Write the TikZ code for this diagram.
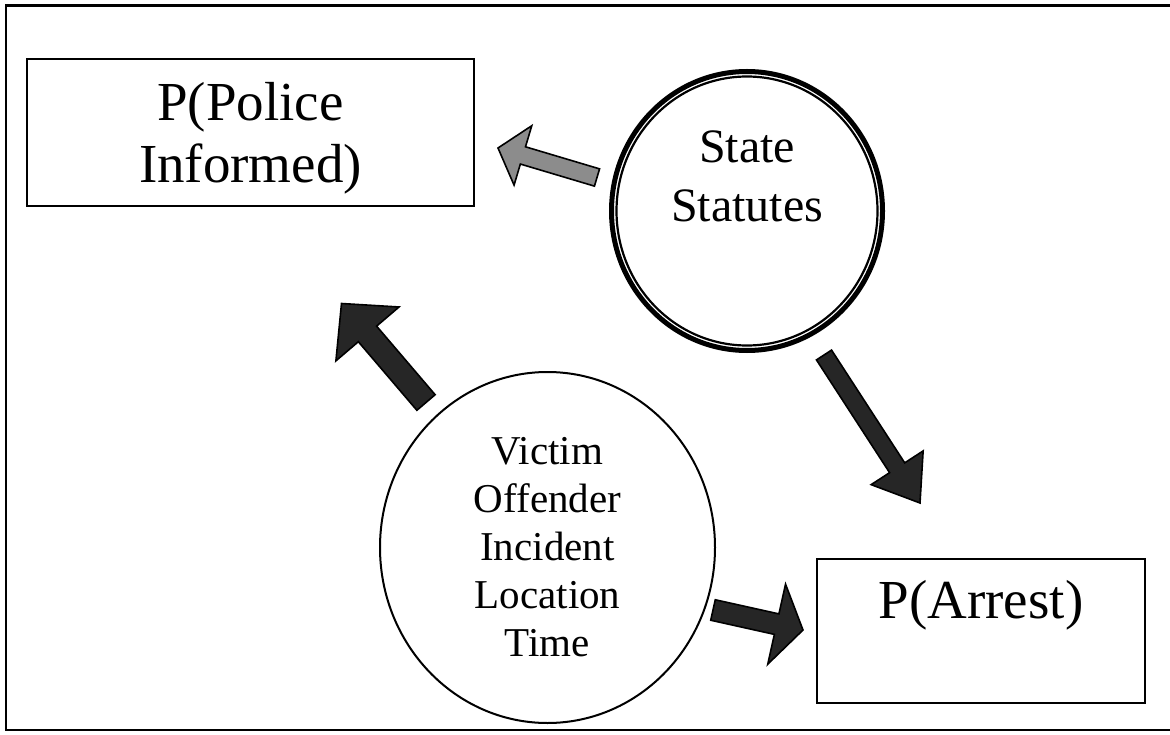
\documentclass[tikz,border=0pt]{standalone}
\usepackage{fontspec}
\setmainfont{Liberation Serif}
\usetikzlibrary{calc,shapes.geometric}
% #1 tail, #2 tip, #3 shaft half width, #4 head half width, #5 head length, #6 style
\newcommand\blockarrow[6]{%
  \coordinate (ba-b) at ($(#2)!#5!(#1)$);
  \draw[#6] ($(#1)!#3!90:(#2)$) -- ($(ba-b)!#3!90:(#2)$) -- ($(ba-b)!#4!90:(#2)$)
    -- (#2) -- ($(ba-b)!#4!-90:(#2)$) -- ($(ba-b)!#3!-90:(#2)$)
    -- ($(#1)!#3!-90:(#2)$) -- cycle;
}
\begin{document}
\begin{tikzpicture}[x=1pt,y=-1pt,
  box/.style={draw=black,line width=2pt,rectangle,inner sep=0pt},
  bigtext/.style={font=\fontsize{55}{62}\selectfont,align=center,inner sep=0pt},
  midtext/.style={font=\fontsize{48}{59}\selectfont,align=center,inner sep=0pt},
  darkarrow/.style={draw=black,line width=1.6pt,fill=black!85},
  grayarrow/.style={draw=black,line width=1.6pt,fill=black!45}]
\useasboundingbox (0,0) rectangle (1170,735);
\clip (0,0) rectangle (1170,735);
\fill[white] (0,0) rectangle (1170,735);
% frame
\draw[line width=2.2pt] (6,5.5) rectangle (1185,730);
% P(Police Informed)
\node[box, minimum width=447pt, minimum height=147pt] (police) at (250.5,132.5) {};
\node[bigtext] (policetext) at (250.5,138) {P(Police\\Informed)};
% State Statutes (double ring)
\node[ellipse, draw=black, line width=5pt, minimum width=271pt, minimum height=279pt, inner sep=0pt] (statutes) at (747,211) {};
\draw[line width=2.2pt] (statutes.center) ellipse [x radius=130.5pt, y radius=134.5pt];
\node[midtext] (statutestext) at (747,176.6) {State\\Statutes};
% Victim ... Time
\node[ellipse, draw=black, line width=2pt, minimum width=335pt, minimum height=351pt, inner sep=0pt,
      font=\fontsize{41}{48}\selectfont, align=center] (factors) at (547.5,547.5)
      {Victim\\Offender\\Incident\\Location\\Time};
% P(Arrest)
\node[box, minimum width=328pt, minimum height=144pt] (arrest) at (981,631) {};
\node[bigtext, anchor=base] (arresttext) at (981,618) {P(Arrest)};
% arrow end points
\coordinate (aA-t) at (597,177.5);  \coordinate (aA-h) at (498,148);
\coordinate (aB-t) at (426,402.5);  \coordinate (aB-h) at (341.5,303.5);
\coordinate (aC-t) at (824,355);    \coordinate (aC-h) at (920,503);
\coordinate (aD-t) at (713,610);    \coordinate (aD-h) at (803,630);
% block arrows
\blockarrow{aA-t}{aA-h}{9pt}{31pt}{26pt}{grayarrow}
\blockarrow{aB-t}{aB-h}{12pt}{41.5pt}{40pt}{darkarrow}
\blockarrow{aC-t}{aC-h}{9pt}{31pt}{42pt}{darkarrow}
\blockarrow{aD-t}{aD-h}{10.5pt}{41pt}{27pt}{darkarrow}
\end{tikzpicture}
\end{document}
